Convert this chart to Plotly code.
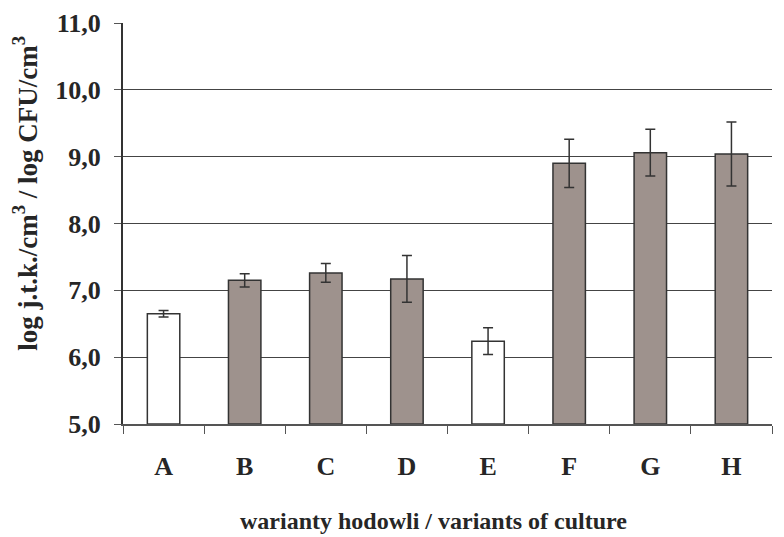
import plotly.graph_objects as go

categories = ["A", "B", "C", "D", "E", "F", "G", "H"]
values = [6.65, 7.15, 7.26, 7.17, 6.24, 8.90, 9.06, 9.04]
errors = [0.05, 0.10, 0.14, 0.35, 0.20, 0.36, 0.35, 0.48]
fills = ["#ffffff", "#9e928d", "#9e928d", "#9e928d", "#ffffff", "#9e928d", "#9e928d", "#9e928d"]
y_ticks = [5, 6, 7, 8, 9, 10, 11]
y_tick_labels = ["5,0", "6,0", "7,0", "8,0", "9,0", "10,0", "11,0"]

FONT = "Liberation Serif"
TXT = "#262626"

fig = go.Figure()
fig.add_trace(go.Bar(
    x=categories, y=[v - 5 for v in values], base=5,
    marker=dict(color=fills, line=dict(color="#333333", width=1.5)),
    error_y=dict(type="data", array=errors, visible=True, color="#333333", thickness=1.5, width=5),
    width=0.4,
))

fig.update_layout(
    width=776, height=529,
    margin=dict(l=115, r=12, t=15, b=113),
    plot_bgcolor="white", paper_bgcolor="white",
    showlegend=False,
    font=dict(family=FONT, size=22, color=TXT),
    xaxis=dict(
        type="category", showgrid=False, showline=True, linecolor="#555555", linewidth=2,
        ticks="outside", tickson="boundaries", ticklen=8, tickcolor="#555555", tickwidth=1,
        tickfont=dict(family=FONT, size=26, color=TXT, weight="bold"),
        ticklabelstandoff=18, automargin=False,
    ),
    yaxis=dict(
        range=[5, 11], tickvals=y_ticks, ticktext=y_tick_labels,
        showgrid=True, gridcolor="#444444", gridwidth=1,
        showline=True, linecolor="#333333", linewidth=2,
        ticks="outside", ticklen=7, tickcolor="#555555", tickwidth=1,
        tickfont=dict(family=FONT, size=26, color=TXT, weight="bold"),
        ticklabelstandoff=8, zeroline=False, automargin=False,
    ),
    annotations=[
        dict(text="<b>log j.t.k./cm<sup>3</sup> / log CFU/cm<sup>3</sup></b>",
             xref="paper", yref="paper", x=-0.151, y=0.574, textangle=-90,
             showarrow=False, font=dict(family=FONT, size=27, color=TXT),
             xanchor="center", yanchor="middle"),
        dict(text="<b>warianty hodowli / variants of culture</b>",
             xref="paper", yref="paper", x=0.478, y=-0.242,
             showarrow=False, font=dict(family=FONT, size=24, color=TXT),
             xanchor="center", yanchor="middle"),
    ],
)

fig.write_html("out.html")
